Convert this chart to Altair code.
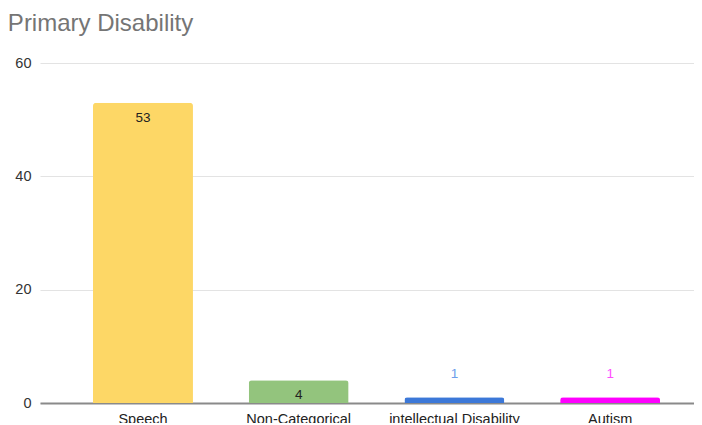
import altair as alt
import pandas as pd

categories = ["Speech", "Non-Categorical", "intellectual Disability", "Autism"]
values = [53, 4, 1, 1]
bar_colors = ["#fdd766", "#93c47d", "#3c78d8", "#ff00ff"]
label_colors = ["#222222", "#222222", "#6d9eeb", "#ff4dff"]
y_ticks = [0, 20, 40, 60]

df = pd.DataFrame({
    "cat": categories,
    "val": values,
    "barc": bar_colors,
    "labc": label_colors,
})

FONT = "Liberation Sans, Arial, sans-serif"

x = alt.X("cat:N", sort=categories, title=None,
          scale=alt.Scale(paddingInner=0.358, paddingOuter=0.279, align=0.61),
          axis=alt.Axis(labelAngle=0, labelFont=FONT, labelFontSize=14.5, labelColor="#222222",
                        labelPadding=9, ticks=False, domainColor="#8a8a8a", domainWidth=2,
                        grid=False))
y = alt.Y("val:Q", title=None,
          scale=alt.Scale(domain=[0, 60], nice=False),
          axis=alt.Axis(values=y_ticks, labelFont=FONT, labelFontSize=14.5, labelColor="#333333",
                        labelPadding=9, ticks=False, domain=False, gridColor="#e3e3e3",
                        gridWidth=1))

base = alt.Chart(df)

bars = base.mark_bar(cornerRadiusTopLeft=3, cornerRadiusTopRight=3).encode(
    x=x, y=y, color=alt.Color("barc:N", scale=None)
)

inside = base.transform_filter("datum.val > 2").mark_text(
    baseline="middle", dy=15, font=FONT, fontSize=13.5
).encode(x=alt.X("cat:N", sort=categories), y="val:Q", text="val:Q",
         color=alt.Color("labc:N", scale=None))

outside = base.transform_filter("datum.val <= 2").mark_text(
    baseline="middle", dy=-23, font=FONT, fontSize=13.5
).encode(x=alt.X("cat:N", sort=categories), y="val:Q", text="val:Q",
         color=alt.Color("labc:N", scale=None))

chart = alt.layer(bars, inside, outside).properties(
    width=654, height=340,
    title=alt.TitleParams("Primary Disability", anchor="start", font=FONT, fontSize=24,
                          fontWeight="normal", color="#757575", frame="bounds", offset=19, dx=-7),
    autosize=alt.AutoSizeParams(type="none"),
    padding={"left": 32, "top": 55, "right": 0, "bottom": 20},
).configure_view(stroke=None)

chart.save("out.html", embed_options={"renderer": "svg", "actions": False})
